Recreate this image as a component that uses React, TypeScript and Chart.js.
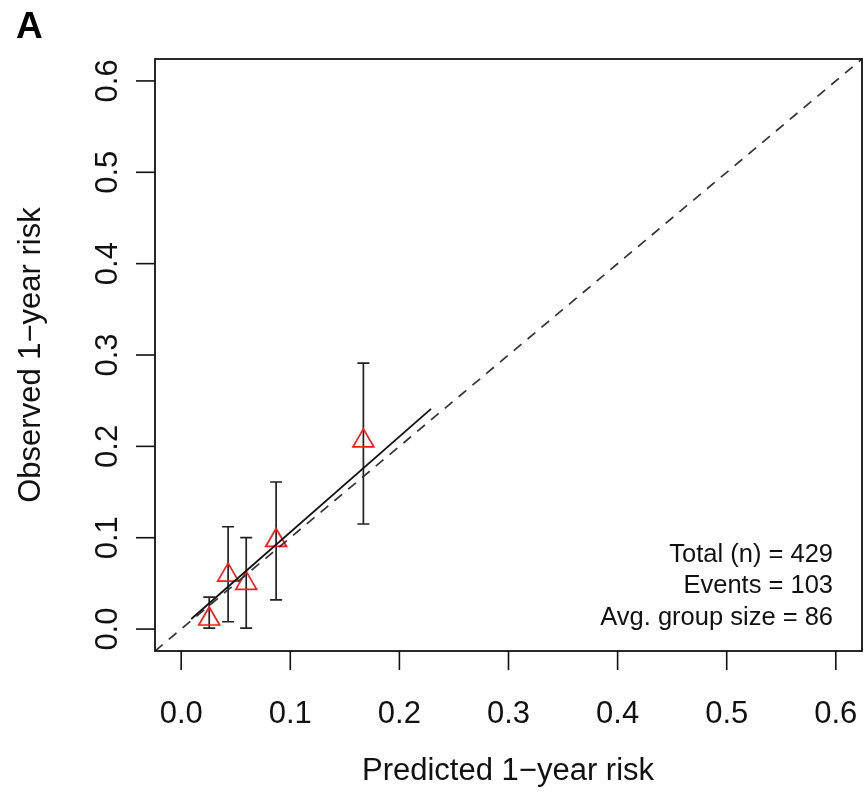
import React, { useEffect, useRef } from "react";
import { Chart, registerables } from "chart.js";

Chart.register(...registerables);

// Calibration groups
const predicted = [0.0257, 0.043, 0.0596, 0.087, 0.167];
const observed = [0.011, 0.059, 0.05, 0.097, 0.206];
const ciLower = [0.001, 0.008, 0.001, 0.032, 0.115];
const ciUpper = [0.035, 0.112, 0.1, 0.161, 0.291];

// Fitted calibration line (solid) and ideal diagonal (dashed)
const fitX = [0.0092, 0.229];
const fitY = [0.011, 0.241];
const idealX = [-0.024, 0.624];

const tickValues = [0, 0.1, 0.2, 0.3, 0.4, 0.5, 0.6];
const tickLabels = ["0.0", "0.1", "0.2", "0.3", "0.4", "0.5", "0.6"];
const legendLines = ["Total (n) = 429", "Events = 103", "Avg. group size = 86"];
const xTitle = "Predicted 1\u2212year risk";
const yTitle = "Observed 1\u2212year risk";
const panelLabel = "A";

const FONT = "'Liberation Sans', Arial, Helvetica, sans-serif";

const rStylePlugin = {
  id: "rStyle",
  beforeDatasetsDraw(chart: any) {
    const ctx = chart.ctx;
    const xs = chart.scales.x;
    const ys = chart.scales.y;
    ctx.save();
    ctx.strokeStyle = "#222";
    ctx.lineWidth = 1.7;
    const cap = 6;
    for (let i = 0; i < predicted.length; i++) {
      const px = xs.getPixelForValue(predicted[i]);
      const lo = ys.getPixelForValue(ciLower[i]);
      const hi = ys.getPixelForValue(ciUpper[i]);
      ctx.beginPath();
      ctx.moveTo(px, lo);
      ctx.lineTo(px, hi);
      ctx.moveTo(px - cap, lo);
      ctx.lineTo(px + cap, lo);
      ctx.moveTo(px - cap, hi);
      ctx.lineTo(px + cap, hi);
      ctx.stroke();
    }
    ctx.restore();
  },
  afterDraw(chart: any) {
    const ctx = chart.ctx;
    const xs = chart.scales.x;
    const ys = chart.scales.y;
    const a = chart.chartArea;
    ctx.save();
    ctx.strokeStyle = "#111";
    ctx.lineWidth = 1.8;
    ctx.strokeRect(a.left, a.top, a.right - a.left, a.bottom - a.top);

    ctx.lineWidth = 1.6;
    ctx.fillStyle = "#111";
    // x ticks
    ctx.font = `31px ${FONT}`;
    ctx.textAlign = "center";
    ctx.textBaseline = "alphabetic";
    tickValues.forEach((v, i) => {
      const px = xs.getPixelForValue(v);
      ctx.beginPath();
      ctx.moveTo(px, a.bottom);
      ctx.lineTo(px, a.bottom + 19);
      ctx.stroke();
      ctx.fillText(tickLabels[i], px, 723);
    });
    // y ticks
    tickValues.forEach((v, i) => {
      const py = ys.getPixelForValue(v);
      ctx.beginPath();
      ctx.moveTo(a.left, py);
      ctx.lineTo(a.left - 19, py);
      ctx.stroke();
      ctx.save();
      ctx.translate(117, py);
      ctx.rotate(-Math.PI / 2);
      ctx.fillText(tickLabels[i], 0, 0);
      ctx.restore();
    });
    // titles
    ctx.fillText(xTitle, 508, 780);
    ctx.save();
    ctx.translate(40, 355);
    ctx.rotate(-Math.PI / 2);
    ctx.fillText(yTitle, 0, 0);
    ctx.restore();

    // legend text
    ctx.font = `25.5px ${FONT}`;
    ctx.textAlign = "right";
    const baselines = [562, 593, 625];
    legendLines.forEach((t, i) => ctx.fillText(t, 833, baselines[i]));

    // panel label
    ctx.font = `bold 37px ${FONT}`;
    ctx.textAlign = "left";
    ctx.fillStyle = "#000";
    ctx.fillText(panelLabel, 16, 38);
    ctx.restore();
  },
};

export default function App() {
  const ref = useRef<HTMLCanvasElement>(null);
  useEffect(() => {
    if (!ref.current) return;
    const chart = new Chart(ref.current, {
      type: "scatter",
      data: {
        datasets: [
          {
            type: "line",
            data: idealX.map((v) => ({ x: v, y: v })),
            borderColor: "#333",
            borderWidth: 1.7,
            borderDash: [10, 8],
            pointRadius: 0,
            fill: false,
          },
          {
            type: "line",
            data: fitX.map((v, i) => ({ x: v, y: fitY[i] })),
            borderColor: "#111",
            borderWidth: 1.8,
            pointRadius: 0,
            fill: false,
          },
          {
            data: predicted.map((v, i) => ({ x: v, y: observed[i] })),
            pointStyle: "triangle",
            pointRadius: 12,
            pointBorderColor: "#ff1a1a",
            pointBackgroundColor: "rgba(0,0,0,0)",
            pointBorderWidth: 1.7,
            borderColor: "#ff1a1a",
            backgroundColor: "rgba(0,0,0,0)",
          },
        ],
      } as any,
      options: {
        animation: false,
        responsive: false,
        events: [],
        layout: { autoPadding: false, padding: { left: 155, right: 4, top: 59, bottom: 141 } },
        plugins: { legend: { display: false }, tooltip: { enabled: false } },
        scales: {
          x: { type: "linear", min: -0.024, max: 0.624, display: false },
          y: { type: "linear", min: -0.024, max: 0.624, display: false },
        },
      } as any,
      plugins: [rStylePlugin],
    });
    return () => chart.destroy();
  }, []);
  return (
    <div style={{ position: "fixed", left: 0, top: 0, width: 866, height: 792, background: "#fff" }}>
      <canvas ref={ref} width={866} height={792} style={{ width: 866, height: 792 }} />
    </div>
  );
}
